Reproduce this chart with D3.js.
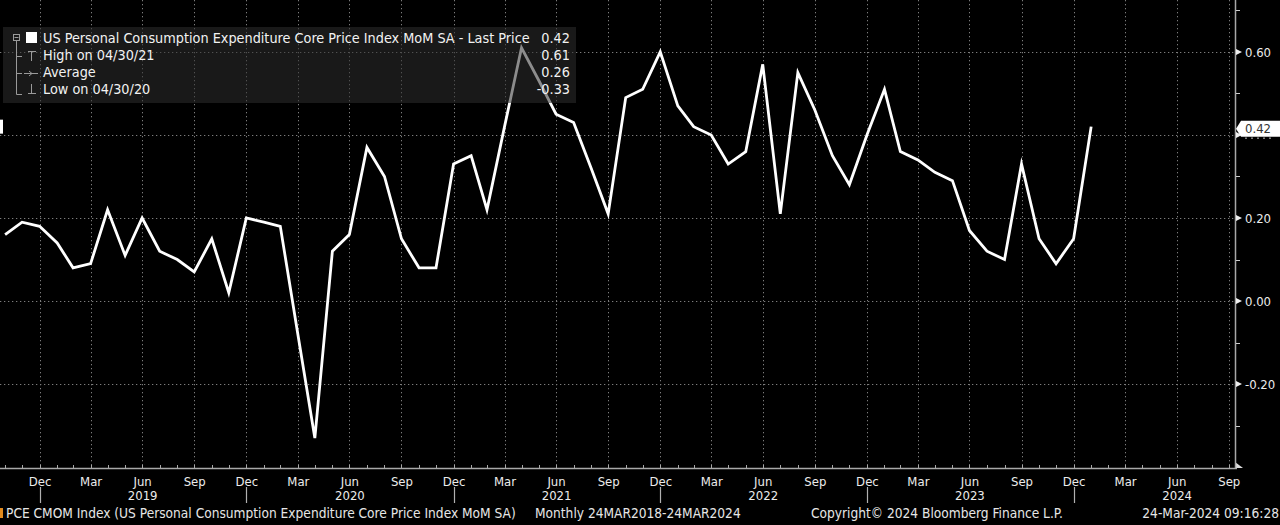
<!DOCTYPE html>
<html><head><meta charset="utf-8">
<script src="https://cdn.jsdelivr.net/npm/d3@7"></script>
<style>
html,body{margin:0;padding:0;background:#000;}
svg{display:block;}
text{font-family:"DejaVu Sans Condensed","DejaVu Sans",sans-serif;}
</style></head><body>
<svg id="c" width="1280" height="525"></svg>
<script>
// ---------- data ----------
const months = [
 "2018-10","2018-11","2018-12",
 "2019-01","2019-02","2019-03","2019-04","2019-05","2019-06","2019-07","2019-08","2019-09","2019-10","2019-11","2019-12",
 "2020-01","2020-02","2020-03","2020-04","2020-05","2020-06","2020-07","2020-08","2020-09","2020-10","2020-11","2020-12",
 "2021-01","2021-02","2021-03","2021-04","2021-05","2021-06","2021-07","2021-08","2021-09","2021-10","2021-11","2021-12",
 "2022-01","2022-02","2022-03","2022-04","2022-05","2022-06","2022-07","2022-08","2022-09","2022-10","2022-11","2022-12",
 "2023-01","2023-02","2023-03","2023-04","2023-05","2023-06","2023-07","2023-08","2023-09","2023-10","2023-11","2023-12",
 "2024-01"];
const values = [
 0.16,0.19,0.18,
 0.14,0.08,0.09,0.22,0.11,0.20,0.12,0.10,0.07,0.15,0.02,0.20,
 0.19,0.18,-0.08,-0.33,0.12,0.16,0.37,0.30,0.15,0.08,0.08,0.33,
 0.35,0.22,0.42,0.61,0.53,0.45,0.43,0.32,0.21,0.49,0.51,0.60,
 0.47,0.42,0.40,0.33,0.36,0.57,0.21,0.55,0.46,0.35,0.28,0.40,
 0.51,0.36,0.34,0.31,0.29,0.17,0.12,0.10,0.33,0.15,0.09,0.15,
 0.42];
const xDomain = ["2018-10-22","2024-10-11"];
const yDomain = [-0.402, 0.725];
const yMajorTicks = [-0.2, 0, 0.2, 0.4, 0.6];
const yMinorTicks = [-0.3, -0.1, 0.1, 0.3, 0.5, 0.7];
const quarterMonths = ["Mar","Jun","Sep","Dec"];
const lastPrice = 0.42;
const legendLabels = ["US Personal Consumption Expenditure Core Price Index MoM SA - Last Price","High on 04/30/21","Average","Low on 04/30/20"];
const legendValues = ["0.42","0.61","0.26","-0.33"];
const footerSource = "PCE CMOM Index (US Personal Consumption Expenditure Core Price Index MoM SA)";
const footerRange = "Monthly 24MAR2018-24MAR2024";
const footerCopyright = "Copyright\u00A9 2024 Bloomberg Finance L.P.";
const footerStamp = "24-Mar-2024 09:16:28";

// ---------- setup ----------
const svg = d3.select("#c");
const W = 1280, H = 525;
const plotR = 1235, plotB = 468;
svg.append("rect").attr("width",W).attr("height",H).attr("fill","#000");

const parseM = d3.timeParse("%Y-%m");
const monthEnd = d => d3.timeDay.offset(d3.timeMonth.offset(d3.timeMonth.floor(d),1),-1);
const data = months.map((m,i)=>({date: monthEnd(parseM(m)), v: values[i]}));
const parseD = d3.timeParse("%Y-%m-%d");

const x = d3.scaleTime().domain(xDomain.map(parseD)).range([0, plotR]);
const y = d3.scaleLinear().domain(yDomain).range([plotB, 0]);

const allMonthEnds = d3.timeMonth.range(d3.timeMonth.floor(x.domain()[0]), x.domain()[1])
  .map(monthEnd).filter(d => d >= x.domain()[0] && d <= x.domain()[1]);
const fmtMon = d3.timeFormat("%b");
const qTicks = allMonthEnds.filter(d => quarterMonths.includes(fmtMon(d)));
const junTicks = qTicks.filter(d => fmtMon(d) === "Jun");
const decTicks = qTicks.filter(d => fmtMon(d) === "Dec");

// ---------- grid ----------
const grid = svg.append("g");
const gridColor = "#7c7c7c", gridDash = "1.3,2.7";
grid.selectAll("line.v").data(qTicks).join("line")
  .attr("x1", d=>Math.round(x(d))+0.5).attr("x2", d=>Math.round(x(d))+0.5)
  .attr("y1", 0).attr("y2", plotB)
  .attr("stroke", gridColor).attr("stroke-dasharray", gridDash).attr("stroke-width",1);
grid.selectAll("line.h").data(yMajorTicks).join("line")
  .attr("x1", 0).attr("x2", plotR)
  .attr("y1", d=>Math.round(y(d))+0.5).attr("y2", d=>Math.round(y(d))+0.5)
  .attr("stroke", gridColor).attr("stroke-dasharray", gridDash).attr("stroke-width",1);

// ---------- series line ----------
const line = d3.line().x(d=>x(d.date)).y(d=>y(d.v));
svg.append("path").datum(data).attr("d", line)
  .attr("fill","none").attr("stroke","#ffffff").attr("stroke-width",2.8)
  .attr("stroke-linejoin","miter").attr("stroke-miterlimit",6);

// left last-price marker
svg.append("rect").attr("x",0).attr("y",y(lastPrice)-7).attr("width",3).attr("height",14).attr("fill","#fff");

// ---------- legend ----------
const lg = svg.append("g");
lg.append("rect").attr("x",3).attr("y",27).attr("width",573).attr("height",76)
  .attr("fill","#2e2e2e").attr("fill-opacity",0.55);
const rowY = [42.5, 60, 77, 93.5];
const txtCol = "#f2f2f2", iconCol = "#9a9a9a";
const texts = lg.selectAll("text.l").data(legendLabels).join("text")
  .attr("x",43).attr("y",(d,i)=>rowY[i]).attr("fill",txtCol)
  .style("font-size","13px").text(d=>d);
const len0 = texts.nodes()[0].getComputedTextLength();
const legFs = 13 * 487 / len0;
texts.style("font-size", legFs+"px");
lg.selectAll("text.v").data(legendValues).join("text")
  .attr("x",570).attr("y",(d,i)=>rowY[i]).attr("text-anchor","end").attr("fill",txtCol)
  .style("font-size", legFs+"px").text(d=>d);
lg.append("rect").attr("x",26).attr("y",32).attr("width",11).attr("height",11).attr("fill","#fff");
lg.append("rect").attr("x",13.5).attr("y",34.5).attr("width",6).attr("height",6).attr("fill","none").attr("stroke",iconCol);
lg.append("line").attr("x1",14.5).attr("x2",18.5).attr("y1",37.5).attr("y2",37.5).attr("stroke",iconCol);
const ic = lg.append("g").attr("stroke",iconCol).attr("stroke-width",1).attr("fill","none");
ic.append("line").attr("x1",16.5).attr("x2",16.5).attr("y1",41).attr("y2",94.5);
ic.append("line").attr("x1",16.5).attr("x2",22).attr("y1",56.5).attr("y2",56.5);
ic.append("line").attr("x1",16.5).attr("x2",22).attr("y1",73.5).attr("y2",73.5);
ic.append("line").attr("x1",16.5).attr("x2",22).attr("y1",94.5).attr("y2",94.5);
ic.append("line").attr("x1",28).attr("x2",36).attr("y1",51.5).attr("y2",51.5);
ic.append("line").attr("x1",31.5).attr("x2",31.5).attr("y1",51.5).attr("y2",61);
ic.append("line").attr("x1",24).attr("x2",38).attr("y1",73.5).attr("y2",73.5);
ic.append("path").attr("d","M29,71 L32,73.5 L29,76");
ic.append("line").attr("x1",31.5).attr("x2",31.5).attr("y1",84).attr("y2",93.5);
ic.append("line").attr("x1",28).attr("x2",36).attr("y1",93.5).attr("y2",93.5);

// ---------- x axis ----------
const axCol = "#a8a8a8", lblCol = "#ececec";
svg.append("line").attr("x1",0).attr("x2",plotR+2).attr("y1",plotB+0.5).attr("y2",plotB+0.5)
  .attr("stroke",axCol).attr("stroke-width",1.5);
svg.append("g").selectAll("line").data(allMonthEnds).join("line")
  .attr("x1",d=>Math.round(x(d))+0.5).attr("x2",d=>Math.round(x(d))+0.5)
  .attr("y1",plotB-3).attr("y2",plotB+1).attr("stroke",axCol);
svg.append("path").attr("d",`M${plotR},${plotB-6} L${plotR+8},${plotB} L${plotR},${plotB} Z`).attr("fill","#ddd");

const xAx = svg.append("g").attr("transform",`translate(0,${plotB})`)
  .call(d3.axisBottom(x).tickValues(qTicks).tickFormat(fmtMon).tickSize(0).tickPadding(9));
xAx.select(".domain").remove();
xAx.selectAll("text").attr("fill",lblCol).style("font-size","13px").style("font-family",null);

const yrAx = svg.append("g").attr("transform",`translate(0,${plotB+14})`)
  .call(d3.axisBottom(x).tickValues(junTicks).tickFormat(d3.timeFormat("%Y")).tickSize(0).tickPadding(9));
yrAx.select(".domain").remove();
yrAx.selectAll("text").attr("fill",lblCol).style("font-size","13px").style("font-family",null);

svg.append("g").selectAll("line").data(decTicks).join("line")
  .attr("x1",d=>Math.round(x(d))+0.5).attr("x2",d=>Math.round(x(d))+0.5)
  .attr("y1",487).attr("y2",503).attr("stroke","#b0b0b0").attr("stroke-width",1.2);

// ---------- y axis (right) ----------
svg.append("line").attr("x1",plotR+0.5).attr("x2",plotR+0.5).attr("y1",0).attr("y2",plotB)
  .attr("stroke",axCol).attr("stroke-width",1.5);
// the 0.40 label sits under the last-price tag in the reference, so it is left blank
const yAx = svg.append("g").attr("transform",`translate(${plotR},0)`)
  .call(d3.axisRight(y).tickValues(yMajorTicks)
    .tickFormat(d => Math.abs(d - lastPrice) < 0.05 ? "" : d.toFixed(2))
    .tickSize(0).tickPadding(10));
yAx.select(".domain").remove();
yAx.selectAll("text").attr("fill",lblCol).style("font-size","13px").style("font-family",null);
svg.append("g").selectAll("path").data(yMajorTicks).join("path")
  .attr("d",d=>`M${plotR+1},${y(d)-3} L${plotR+7},${y(d)} L${plotR+1},${y(d)+3} Z`).attr("fill","#eee");
svg.append("g").selectAll("line").data(yMinorTicks.filter(v=>v>yDomain[0]&&v<yDomain[1])).join("line")
  .attr("x1",plotR+1).attr("x2",plotR+5).attr("y1",d=>Math.round(y(d))+0.5).attr("y2",d=>Math.round(y(d))+0.5)
  .attr("stroke","#ccc");

// last price tag
const ly = y(lastPrice);
const tag = svg.append("g");
tag.append("path").attr("d",`M${plotR+1},${ly+2} L${plotR+6},${ly-6} L1280,${ly-6} L1280,${ly+10} L${plotR+6},${ly+10} Z`)
  .attr("fill","#ffffff");
tag.append("text").attr("x",plotR+10).attr("y",ly+6.5).attr("fill","#333")
  .style("font-size","13px").text(lastPrice.toFixed(2));
// dotted remnant below the tag (hidden 0.40 label)
svg.append("line").attr("x1",plotR+10).attr("x2",plotR+36).attr("y1",ly+11.5).attr("y2",ly+11.5)
  .attr("stroke","#bbb").attr("stroke-dasharray","2,4");

// ---------- footer ----------
const ft = svg.append("g").attr("fill","#e6e6e6");
svg.append("rect").attr("x",0).attr("y",508).attr("width",3).attr("height",10).attr("fill","#e08a1e");
const fs = ft.append("text").attr("x",6).attr("y",517.5).style("font-size","12px").text(footerSource);
const fLen = fs.node().getComputedTextLength();
const footFs = 12 * 510 / fLen;
fs.style("font-size", footFs+"px");
ft.append("text").attr("x",535).attr("y",517.5).style("font-size",footFs+"px").text(footerRange);
ft.append("text").attr("x",811).attr("y",517.5).style("font-size",footFs+"px").text(footerCopyright);
ft.append("text").attr("x",1279).attr("y",517.5).attr("text-anchor","end").style("font-size",footFs+"px").text(footerStamp);
</script>
</body></html>
